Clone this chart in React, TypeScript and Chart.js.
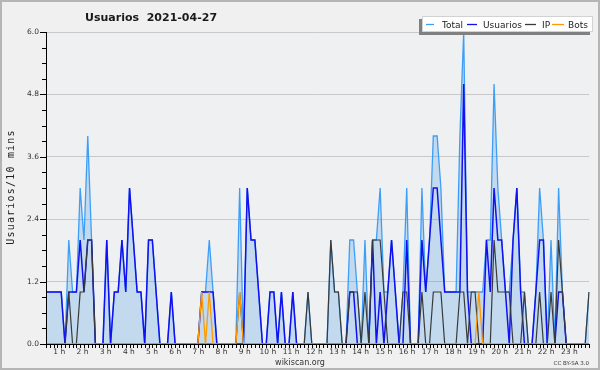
import React, { useEffect, useRef } from 'react';
import { Chart, registerables } from 'chart.js';

Chart.register(...registerables);

const W = 600;
const H = 370;

// 10-minute slots of the day 2021-04-27 (144 slots)
const slots: string[] = [];
for (let h = 0; h < 24; h++) for (let m = 0; m < 60; m += 10) slots.push(`${String(h).padStart(2, '0')}:${String(m).padStart(2, '0')}`);

const hourLabels = ['1 h', '2 h', '3 h', '4 h', '5 h', '6 h', '7 h', '8 h', '9 h', '10 h', '11 h', '12 h', '13 h', '14 h', '15 h', '16 h', '17 h', '18 h', '19 h', '20 h', '21 h', '22 h', '23 h'];
const yTickValues = [0, 1.2, 2.4, 3.6, 4.8, 6.0];
const yTickLabels = ['0.0', '1.2', '2.4', '3.6', '4.8', '6.0'];

const totalValues = [
  1, 1, 1, 1, 1, 0, 2, 1, 1, 3, 2, 4,
  2, 0, 0, 0, 2, 0, 1, 1, 2, 1, 3, 2,
  1, 1, 0, 2, 2, 1, 0, 0, 0, 1, 0, 0,
  0, 0, 0, 0, 0, 1, 1, 2, 1, 0, 0, 0,
  0, 0, 0, 3, 0, 3, 2, 2, 1, 0, 0, 1,
  1, 0, 1, 0, 0, 1, 0, 0, 0, 1, 0, 0,
  0, 0, 0, 2, 1, 1, 0, 0, 2, 2, 1, 0,
  2, 0, 2, 2, 3, 1, 1, 2, 1, 0, 1, 3,
  0, 0, 0, 3, 1, 2, 4, 4, 3, 1, 1, 1,
  1, 4, 6, 1, 1, 1, 1, 1, 2, 2, 5, 3,
  2, 1, 1, 2, 3, 1, 1, 0, 0, 1, 3, 2,
  0, 2, 0, 3, 1, 0, 0, 0, 0, 0, 0, 1,
];

const usuariosValues = [
  1, 1, 1, 1, 1, 0, 1, 1, 1, 2, 1, 2,
  2, 0, 0, 0, 2, 0, 1, 1, 2, 1, 3, 2,
  1, 1, 0, 2, 2, 1, 0, 0, 0, 1, 0, 0,
  0, 0, 0, 0, 0, 1, 1, 1, 1, 0, 0, 0,
  0, 0, 0, 0, 0, 3, 2, 2, 1, 0, 0, 1,
  1, 0, 1, 0, 0, 1, 0, 0, 0, 0, 0, 0,
  0, 0, 0, 0, 0, 0, 0, 0, 1, 1, 0, 0,
  0, 0, 2, 0, 1, 0, 1, 2, 1, 0, 0, 2,
  0, 0, 0, 2, 1, 2, 3, 3, 2, 1, 1, 1,
  1, 1, 5, 1, 0, 0, 0, 0, 2, 1, 3, 2,
  2, 1, 0, 2, 3, 1, 0, 0, 0, 1, 2, 2,
  0, 0, 0, 1, 1, 0, 0, 0, 0, 0, 0, 0,
];

const ipValues = [
  0, 0, 0, 0, 0, 0, 1, 0, 0, 1, 1, 2,
  2, 0, 0, 0, 0, 0, 0, 0, 0, 0, 0, 0,
  0, 0, 0, 0, 0, 0, 0, 0, 0, 0, 0, 0,
  0, 0, 0, 0, 0, 0, 0, 0, 0, 0, 0, 0,
  0, 0, 0, 1, 0, 0, 0, 0, 0, 0, 0, 0,
  0, 0, 0, 0, 0, 0, 0, 0, 0, 1, 0, 0,
  0, 0, 0, 2, 1, 1, 0, 0, 1, 1, 1, 0,
  1, 0, 2, 2, 2, 1, 0, 0, 0, 0, 1, 1,
  0, 0, 0, 1, 0, 0, 1, 1, 1, 0, 0, 0,
  0, 1, 1, 0, 1, 1, 0, 0, 0, 0, 2, 1,
  1, 1, 1, 0, 0, 0, 1, 0, 0, 0, 1, 0,
  0, 1, 0, 2, 1, 0, 0, 0, 0, 0, 0, 1,
];

const botsValues = [
  0, 0, 0, 0, 0, 0, 0, 0, 0, 0, 0, 0,
  0, 0, 0, 0, 0, 0, 0, 0, 0, 0, 0, 0,
  0, 0, 0, 0, 0, 0, 0, 0, 0, 0, 0, 0,
  0, 0, 0, 0, 0, 1, 0, 1, 0, 0, 0, 0,
  0, 0, 0, 1, 0, 0, 0, 0, 0, 0, 0, 0,
  0, 0, 0, 0, 0, 0, 0, 0, 0, 0, 0, 0,
  0, 0, 0, 0, 0, 0, 0, 0, 0, 0, 0, 0,
  0, 0, 0, 0, 0, 0, 0, 0, 0, 0, 0, 0,
  0, 0, 0, 0, 0, 0, 0, 0, 0, 0, 0, 0,
  0, 0, 0, 0, 0, 0, 1, 0, 0, 0, 0, 0,
  0, 0, 0, 0, 0, 0, 0, 0, 0, 0, 0, 0,
  0, 0, 0, 0, 0, 0, 0, 0, 0, 0, 0, 0,
];

const seriesNames = ['Total', 'Usuarios', 'IP', 'Bots'];
const seriesColors = ['#3d9ef7', '#1010f0', '#3a3a3a', '#ff9a00'];

const FONT = '"DejaVu Sans", Verdana, sans-serif';

export default function App() {
  const ref = useRef<HTMLCanvasElement>(null);

  useEffect(() => {
    const canvas = ref.current;
    if (!canvas) return;

    const decor = {
      id: 'decor',
      beforeDraw(chart: any) {
        const { ctx, chartArea: ca } = chart;
        ctx.save();
        ctx.fillStyle = '#f0f0f0';
        ctx.fillRect(0, 0, W, H);
        ctx.strokeStyle = '#b5b5b5';
        ctx.lineWidth = 2;
        ctx.strokeRect(1, 1, W - 2, H - 2);
        ctx.fillStyle = '#eef0f2';
        ctx.fillRect(ca.left, ca.top, ca.right - ca.left, ca.bottom - ca.top);
        ctx.restore();
      },
      afterDraw(chart: any) {
        const { ctx, chartArea: ca, scales } = chart;
        const xs = scales.x;
        const ys = scales.y;
        ctx.save();

        // axis lines and tick marks
        ctx.strokeStyle = '#000';
        ctx.lineWidth = 1;
        ctx.beginPath();
        ctx.moveTo(ca.left + 0.5, ca.top);
        ctx.lineTo(ca.left + 0.5, ca.bottom + 0.5);
        ctx.lineTo(ca.right, ca.bottom + 0.5);
        for (let k = 0; k <= 20; k++) {
          const py = Math.round(ys.getPixelForValue(k * 0.3)) + 0.5;
          const len = k % 4 === 0 ? 6 : 4;
          ctx.moveTo(ca.left - len, py);
          ctx.lineTo(ca.left, py);
        }
        for (let i = 0; i < slots.length; i++) {
          const px = Math.round(xs.getPixelForValue(i)) + 0.5;
          ctx.moveTo(px, ca.bottom);
          ctx.lineTo(px, ca.bottom + 4);
        }
        ctx.stroke();

        // y tick labels
        ctx.fillStyle = '#333';
        ctx.font = `7.5px ${FONT}`;
        ctx.textAlign = 'right';
        ctx.textBaseline = 'middle';
        yTickValues.forEach((v, k) => {
          ctx.fillText(yTickLabels[k], ca.left - 7, ys.getPixelForValue(v));
        });

        // x hour labels
        ctx.textAlign = 'center';
        ctx.textBaseline = 'top';
        hourLabels.forEach((lab, k) => {
          const h = k + 1;
          const px = xs.getPixelForValue(h * 6) - 9.5 + 0.4 * (h - 1);
          ctx.fillText(lab, px, ca.bottom + 4);
        });

        // title
        ctx.fillStyle = '#1a1a1a';
        ctx.font = `bold 11px ${FONT}`;
        ctx.textAlign = 'left';
        ctx.textBaseline = 'alphabetic';
        ctx.fillText('Usuarios  2021-04-27', 85, 21);

        // legend box with shadow
        ctx.fillStyle = '#808080';
        ctx.fillRect(419, 19, 171, 16);
        ctx.fillStyle = '#ffffff';
        ctx.fillRect(422, 16, 171, 16);
        ctx.strokeStyle = '#d2d2d2';
        ctx.lineWidth = 1;
        ctx.strokeRect(422.5, 16.5, 170, 15);
        const items = [
          { sx: 426, ex: 434, tx: 442 },
          { sx: 467, ex: 477, tx: 483 },
          { sx: 525, ex: 536, tx: 542 },
          { sx: 552, ex: 564, tx: 568 },
        ];
        ctx.font = `9px ${FONT}`;
        ctx.textBaseline = 'alphabetic';
        items.forEach((it, k) => {
          ctx.strokeStyle = seriesColors[k];
          ctx.lineWidth = 1.3;
          ctx.beginPath();
          ctx.moveTo(it.sx, 24.5);
          ctx.lineTo(it.ex, 24.5);
          ctx.stroke();
          ctx.fillStyle = '#222';
          ctx.fillText(seriesNames[k], it.tx, 28);
        });

        // y axis title
        ctx.save();
        ctx.translate(11, 187);
        ctx.rotate(-Math.PI / 2);
        ctx.fillStyle = '#222';
        ctx.font = '10px "DejaVu Sans Mono", monospace';
        (ctx as any).letterSpacing = '1.2px';
        ctx.textAlign = 'center';
        ctx.textBaseline = 'middle';
        ctx.fillText('Usuarios/10 mins', 0, 0);
        ctx.restore();

        // footer
        ctx.fillStyle = '#333';
        ctx.font = `8px ${FONT}`;
        ctx.textAlign = 'center';
        ctx.textBaseline = 'alphabetic';
        ctx.fillText('wikiscan.org', 300, 365);
        ctx.font = `5.5px ${FONT}`;
        ctx.textAlign = 'right';
        ctx.fillText('CC BY-SA 3.0', 589, 365);

        ctx.restore();
      },
    };

    const chart = new Chart(canvas, {
      type: 'line',
      data: {
        labels: slots,
        datasets: [
          { label: 'Bots', data: botsValues, borderColor: seriesColors[3], borderWidth: 1.3, fill: false },
          { label: 'IP', data: ipValues, borderColor: seriesColors[2], borderWidth: 1.2, fill: false },
          { label: 'Usuarios', data: usuariosValues, borderColor: seriesColors[1], borderWidth: 1.5, fill: false },
          { label: 'Total', data: totalValues, borderColor: seriesColors[0], borderWidth: 1.3, fill: 'origin', backgroundColor: 'rgba(40,135,225,0.22)' },
        ],
      },
      options: {
        responsive: false,
        animation: false,
        devicePixelRatio: 1,
        layout: { padding: { left: 0, right: 11, top: 32, bottom: 0 } },
        plugins: { legend: { display: false }, tooltip: { enabled: false }, title: { display: false } },
        elements: { point: { radius: 0 }, line: { tension: 0 } },
        scales: {
          x: {
            type: 'category',
            offset: false,
            grid: { display: false },
            border: { display: false },
            ticks: { display: false, autoSkip: false },
            afterFit: (s: any) => { s.height = 26; },
          },
          y: {
            min: 0,
            max: 6,
            ticks: { display: false, stepSize: 1.2 },
            grid: { color: '#c8c8c8', lineWidth: 1, drawTicks: false },
            border: { display: false },
            afterFit: (s: any) => { s.width = 46; },
          },
        },
      },
      plugins: [decor],
    } as any);

    return () => chart.destroy();
  }, []);

  return (
    <div style={{ position: 'absolute', left: 0, top: 0, width: W, height: H }}>
      <canvas ref={ref} width={W} height={H} style={{ display: 'block', width: W, height: H }} />
    </div>
  );
}
